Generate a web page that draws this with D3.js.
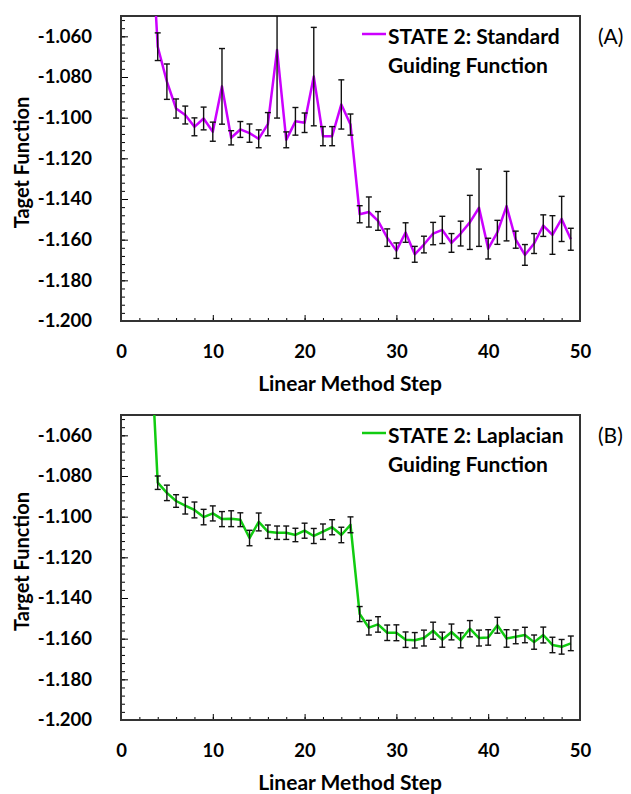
<!DOCTYPE html>
<html>
<head>
<meta charset="utf-8">
<script src="https://cdnjs.cloudflare.com/ajax/libs/d3/7.8.5/d3.min.js"></script>
<style>
  body { margin: 0; background: #fff; }
  svg { display: block; font-family: Lato, "Open Sans", sans-serif; }
</style>
</head>
<body>
<div id="chart"></div>
<script>
// steps of the linear method (first visible point enters from above the frame)
const steps = [3, 4, 5, 6, 7, 8, 9, 10, 11, 12, 13, 14, 15, 16, 17, 18, 19, 20, 21, 22, 23, 24, 25, 26,
  27, 28, 29, 30, 31, 32, 33, 34, 35, 36, 37, 38, 39, 40, 41, 42, 43, 44, 45, 46, 47, 48, 49];

// (A) standard guiding function
const stdValues = [-0.984, -1.0651, -1.0823, -1.0955, -1.0987, -1.1045, -1.1004, -1.1069, -1.0846, -1.1099,
  -1.1058, -1.1076, -1.1104, -1.1032, -1.0667, -1.1109, -1.1018, -1.1025, -1.0798, -1.1091, -1.1091, -1.0935,
  -1.1034, -1.1475, -1.1464, -1.1508, -1.159, -1.1654, -1.1565, -1.1672, -1.1624, -1.157, -1.1552, -1.1616,
  -1.157, -1.1515, -1.1443, -1.1644, -1.1564, -1.1435, -1.16, -1.1675, -1.1619, -1.1531, -1.1577, -1.1498, -1.1598];
const stdErrors = [0.005, 0.0068, 0.0087, 0.0047, 0.0044, 0.0044, 0.0056, 0.0047, 0.0186, 0.0035, 0.0039,
  0.0045, 0.0044, 0.0057, 0.0335, 0.0039, 0.0068, 0.0048, 0.0242, 0.0047, 0.0047, 0.0121, 0.0052, 0.0042,
  0.0074, 0.0046, 0.0043, 0.0038, 0.0048, 0.0039, 0.0041, 0.0055, 0.0067, 0.0046, 0.0061, 0.0133, 0.019,
  0.0051, 0.0059, 0.0171, 0.0042, 0.0051, 0.0049, 0.0053, 0.0095, 0.0111, 0.0054];

// (B) laplacian guiding function
const lapValues = [-0.993, -1.0833, -1.0883, -1.0923, -1.0946, -1.0967, -1.1002, -1.0984, -1.1012, -1.101,
  -1.1015, -1.1105, -1.1026, -1.1074, -1.1079, -1.1079, -1.109, -1.1069, -1.1095, -1.1074, -1.1052, -1.109,
  -1.104, -1.1479, -1.1546, -1.153, -1.1571, -1.1571, -1.1605, -1.1608, -1.1597, -1.1561, -1.1605, -1.1567,
  -1.1608, -1.1551, -1.1597, -1.1594, -1.1534, -1.1599, -1.1591, -1.1582, -1.1617, -1.1582, -1.1631, -1.164, -1.1623];
const lapErrors = [0.004, 0.0033, 0.0038, 0.0031, 0.0041, 0.0039, 0.0038, 0.0037, 0.0037, 0.0039, 0.0034,
  0.0038, 0.0044, 0.0033, 0.0033, 0.0033, 0.0033, 0.0037, 0.0037, 0.0038, 0.0037, 0.0038, 0.0039, 0.0037,
  0.0036, 0.0038, 0.0038, 0.0039, 0.0038, 0.0038, 0.0039, 0.0042, 0.0037, 0.0039, 0.0037, 0.004, 0.0039,
  0.0038, 0.0039, 0.0043, 0.0034, 0.0038, 0.0035, 0.0039, 0.0038, 0.0036, 0.0036];

const xTicks = [0, 10, 20, 30, 40, 50];
const yTicks = [-1.06, -1.08, -1.1, -1.12, -1.14, -1.16, -1.18, -1.2];

const W = 631, H = 794;
const left = 121, right = 580, plotH = 305;

const svg = d3.select("#chart").append("svg")
    .attr("width", W)
    .attr("height", H);

const x = d3.scaleLinear().domain([0, 50]).range([left, right]);

function panel(top, values, errors, color, yTitle, legend, tag, id) {
  const y = d3.scaleLinear().domain([-1.2, -1.05]).range([top + plotH, top]);
  const g = svg.append("g");

  g.append("clipPath").attr("id", id)
    .append("rect")
      .attr("x", left).attr("y", top)
      .attr("width", right - left).attr("height", plotH);

  // minor ticks
  const yMinor = d3.range(0, 38).map(i => -1.2 + i * 0.004);
  const xMinor = d3.range(0, 26).map(i => i * 2);

  g.append("g")
      .attr("transform", `translate(${left},0)`)
      .call(d3.axisLeft(y).tickValues(yMinor).tickSize(-4).tickFormat(""))
      .call(a => a.select(".domain").remove());
  g.append("g")
      .attr("transform", `translate(0,${top + plotH})`)
      .call(d3.axisBottom(x).tickValues(xMinor).tickSize(-3).tickFormat(""))
      .call(a => a.select(".domain").remove());

  // major ticks + labels
  const yAxis = g.append("g")
      .attr("transform", `translate(${left},0)`)
      .call(d3.axisLeft(y).tickValues(yTicks).tickSize(-7).tickPadding(29)
        .tickFormat(v => v.toFixed(3)));
  const xAxis = g.append("g")
      .attr("transform", `translate(0,${top + plotH})`)
      .call(d3.axisBottom(x).tickValues(xTicks).tickSize(-6).tickPadding(24)
        .tickFormat(v => v));
  [yAxis, xAxis].forEach(a => {
    a.select(".domain").remove();
    a.selectAll("text")
      .attr("font-family", "Lato, sans-serif")
      .attr("font-size", 18.5)
      .attr("font-weight", "bold")
      .attr("fill", "#000");
  });
  g.selectAll(".tick line").attr("stroke", "#000").attr("stroke-width", 1);

  // frame
  g.append("rect")
      .attr("x", left).attr("y", top)
      .attr("width", right - left).attr("height", plotH)
      .attr("fill", "none")
      .attr("stroke", "#333")
      .attr("stroke-width", 2);

  const pts = steps.map((s, i) => ({ s, v: values[i], e: errors[i] }));
  const plot = g.append("g").attr("clip-path", `url(#${id})`);

  plot.append("path")
      .datum(pts)
      .attr("fill", "none")
      .attr("stroke", color)
      .attr("stroke-width", 2.5)
      .attr("stroke-linejoin", "round")
      .attr("d", d3.line().x(d => x(d.s)).y(d => y(d.v)));

  const bars = plot.selectAll("g.err").data(pts).join("g").attr("class", "err")
      .attr("stroke", "#111").attr("stroke-width", 1.4);
  bars.append("line")
      .attr("x1", d => x(d.s)).attr("x2", d => x(d.s))
      .attr("y1", d => y(d.v - d.e)).attr("y2", d => y(d.v + d.e));
  bars.append("line")
      .attr("x1", d => x(d.s) - 3).attr("x2", d => x(d.s) + 3)
      .attr("y1", d => y(d.v + d.e)).attr("y2", d => y(d.v + d.e));
  bars.append("line")
      .attr("x1", d => x(d.s) - 3).attr("x2", d => x(d.s) + 3)
      .attr("y1", d => y(d.v - d.e)).attr("y2", d => y(d.v - d.e));

  // titles
  g.append("text")
      .attr("transform", `translate(21,${top + plotH / 2 - 6}) rotate(-90)`)
      .attr("text-anchor", "middle")
      .attr("dominant-baseline", "central")
      .attr("font-size", 20).attr("font-weight", "bold")
      .text(yTitle);
  g.append("text")
      .attr("x", 350).attr("y", top + plotH + 61)
      .attr("text-anchor", "middle")
      .attr("dominant-baseline", "central")
      .attr("font-size", 21).attr("font-weight", "bold")
      .text("Linear Method Step");

  // legend
  g.append("line")
      .attr("x1", 362).attr("x2", 386)
      .attr("y1", top + 18).attr("y2", top + 18)
      .attr("stroke", color).attr("stroke-width", 2.5);
  const lt = g.append("text")
      .attr("font-size", 21).attr("font-weight", "bold");
  legend.forEach((t, i) => {
    lt.append("tspan")
      .attr("x", 388).attr("y", top + 19 + i * 29)
      .attr("dominant-baseline", "central")
      .text(t);
  });

  g.append("text")
      .attr("x", 598).attr("y", top + 19)
      .attr("dominant-baseline", "central")
      .attr("font-size", 21)
      .text(tag);
}

panel(16, stdValues, stdErrors, "#cc00ff", "Taget Function",
  ["STATE 2: Standard", "Guiding Function"], "(A)", "clipA");
panel(415, lapValues, lapErrors, "#11cc11", "Target Function",
  ["STATE 2: Laplacian", "Guiding Function"], "(B)", "clipB");
</script>
</body>
</html>
